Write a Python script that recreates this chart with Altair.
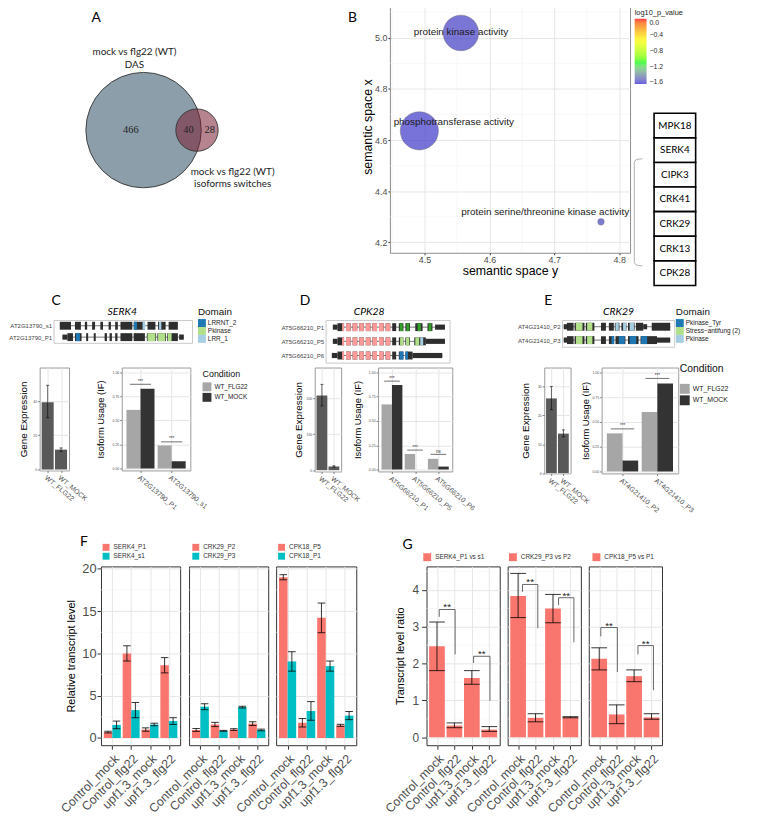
import json
import math
import pandas as pd
import altair as alt

FONT = "Liberation Sans"
CAL = "Lato"
SERIF = "Liberation Serif"
DUMMY = pd.DataFrame({"v": [0]})

# ---------------- A : Venn counts ----------------
das_only = 466
das_and_switch = 40
switch_only = 28
venn_set_labels = ["mock vs flg22 (WT)", "DAS", "mock vs flg22 (WT)", "isoforms switches"]
venn_label_x = [-2.0, -2.0, 19.6, 19.6]
venn_label_y = [17.2, 14.37, -9.14, -11.97]

# ---------------- B : REVIGO scatter ----------------
go_terms = ["phosphotransferase activity", "protein kinase activity",
            "protein serine/threonine kinase activity"]
semantic_y = [4.492, 4.556, 4.772]
semantic_x = [4.636, 5.019, 4.280]
go_log_size = [4.60, 4.25, 2.00]
go_log10_p = [-1.58, -1.57, -1.55]
label_semantic_y = [4.545, 4.556, 4.686]
label_semantic_x = [4.670, 5.022, 4.320]
gene_list = ["MPK18", "SERK4", "CIPK3", "CRK41", "CRK29", "CRK13", "CPK28"]

# ---------------- C / D / E ----------------
conditions = ["WT_FLG22", "WT_MOCK"]

serk4_tx = ["AT2G13790_s1", "AT2G13790_P1"]
serk4_exons = {
    "AT2G13790_s1": [(182, 216, "cds"), (228, 246, "cds"), (258, 265, "cds"), (280, 289, "cds"),
                     (305, 313, "cds"), (330, 337, "cds"), (350, 358, "cds"), (366, 402, "cds"),
                     (406, 440, "cds"), (448, 472, "cds"), (480, 503, "cds"), (512, 540, "cds")],
    "AT2G13790_P1": [(190, 205, "utr"), (205, 222, "cds"), (228, 248, "cds"), (262, 268, "cds"),
                     (285, 291, "cds"), (318, 325, "cds"), (333, 340, "cds"), (350, 357, "cds"),
                     (366, 402, "cds"), (406, 440, "cds"), (446, 474, "cds"), (478, 504, "cds"),
                     (508, 540, "cds"), (544, 558, "utr")],
}
serk4_domains = [("AT2G13790_s1", 407, 416, "LRRNT_2"), ("AT2G13790_s1", 433, 441, "LRR_1"),
                 ("AT2G13790_s1", 483, 490, "LRR_1"), ("AT2G13790_P1", 231, 243, "LRRNT_2"),
                 ("AT2G13790_P1", 448, 472, "Pkinase"), ("AT2G13790_P1", 480, 502, "Pkinase"),
                 ("AT2G13790_P1", 510, 521, "Pkinase")]
serk4_domain_names = ["LRRNT_2", "Pkinase", "LRR_1"]

cpk28_tx = ["AT5G66210_P1", "AT5G66210_P5", "AT5G66210_P6"]
_pink = [(298, 312), (318, 332), (338, 352), (358, 372), (378, 392), (398, 412), (418, 432)]
cpk28_exons = {
    "AT5G66210_P1": [(258, 272, "utr"), (272, 292, "cds")] + [(a, b, "cds") for a, b in _pink] +
                    [(438, 450, "cds"), (458, 472, "cds"), (478, 492, "cds"), (508, 530, "cds"),
                     (545, 560, "cds"), (568, 598, "utr")],
    "AT5G66210_P5": [(258, 272, "utr"), (272, 292, "cds")] + [(a, b, "cds") for a, b in _pink] +
                    [(438, 450, "cds"), (458, 472, "cds"), (478, 492, "cds"), (505, 540, "cds"),
                     (540, 598, "utr")],
    "AT5G66210_P6": [(255, 272, "utr"), (272, 292, "cds")] + [(a, b, "cds") for a, b in _pink] +
                    [(438, 450, "cds"), (458, 472, "cds"), (478, 500, "cds"), (500, 590, "utr")],
}
cpk28_domains = []
for _t in cpk28_tx:
    cpk28_domains += [(_t, 286, 292, "Pkinase")] + [(_t, a, b, "Pkinase") for a, b in _pink]
cpk28_domains += [("AT5G66210_P1", 461, 470, "EF-hand_7"), ("AT5G66210_P1", 481, 490, "EF-hand_7"),
                  ("AT5G66210_P1", 515, 525, "EF-hand_7"), ("AT5G66210_P1", 548, 557, "EF-hand_7"),
                  ("AT5G66210_P5", 462, 472, "EF-hand_5"), ("AT5G66210_P5", 480, 490, "EF-hand_5"),
                  ("AT5G66210_P5", 508, 520, "EF-hand_5"), ("AT5G66210_P5", 523, 532, "EF-hand_8"),
                  ("AT5G66210_P6", 460, 472, "EF-hand_6"), ("AT5G66210_P6", 478, 486, "EF-hand_6")]
cpk28_domain_names = ["Pkinase", "EF-hand_7", "EF-hand_5", "EF-hand_8", "EF-hand_6"]

crk29_tx = ["AT4G21410_P2", "AT4G21410_P3"]
crk29_exons = {
    "AT4G21410_P2": [(205, 215, "utr"), (215, 235, "cds"), (238, 268, "cds"), (272, 298, "cds"),
                     (318, 333, "cds"), (342, 357, "cds"), (360, 374, "cds"), (380, 395, "cds"),
                     (400, 420, "cds"), (424, 446, "cds"), (446, 458, "utr"), (472, 528, "cds")],
    "AT4G21410_P3": [(205, 215, "utr"), (215, 235, "cds"), (238, 268, "cds"), (272, 298, "cds"),
                     (318, 333, "cds"), (342, 358, "cds"), (362, 392, "cds"), (400, 432, "cds"),
                     (438, 488, "cds"), (488, 528, "utr")],
}
crk29_domains = [("AT4G21410_P2", 242, 262, "Stress\u2212antifung (2)"),
                 ("AT4G21410_P2", 276, 292, "Stress\u2212antifung (2)"),
                 ("AT4G21410_P2", 362, 372, "Pkinase"), ("AT4G21410_P2", 385, 394, "Pkinase"),
                 ("AT4G21410_P2", 405, 418, "Pkinase"),
                 ("AT4G21410_P3", 242, 262, "Stress\u2212antifung (2)"),
                 ("AT4G21410_P3", 276, 292, "Stress\u2212antifung (2)"),
                 ("AT4G21410_P3", 350, 358, "Pkinase_Tyr"), ("AT4G21410_P3", 372, 390, "Pkinase_Tyr"),
                 ("AT4G21410_P3", 405, 425, "Pkinase_Tyr"), ("AT4G21410_P3", 440, 458, "Pkinase_Tyr")]
crk29_domain_names = ["Pkinase_Tyr", "Stress\u2212antifung (2)", "Pkinase"]

c_isoforms = ["AT2G13790_P1", "AT2G13790_s1"]
c_expr, c_expr_lo, c_expr_hi = [39.4, 11.6], [30.3, 10.6], [49.3, 12.6]
c_if_flg22, c_if_mock = [0.61, 0.24], [0.83, 0.075]
c_sig, c_sig_y = ["***", "***"], [0.876, 0.277]

d_isoforms = ["AT5G66210_P1", "AT5G66210_P5", "AT5G66210_P6"]
d_expr, d_expr_lo, d_expr_hi = [208, 10], [179, 8], [239, 12]
d_if_flg22, d_if_mock = [0.67, 0.16, 0.11], [0.87, 0.0, 0.03]
d_sig, d_sig_y = ["***", "***", "ns"], [0.91, 0.20, 0.156]

e_isoforms = ["AT4G21410_P2", "AT4G21410_P3"]
e_expr, e_expr_lo, e_expr_hi = [25.9, 13.7], [22.0, 12.6], [30.0, 15.0]
e_if_flg22, e_if_mock = [0.385, 0.60], [0.11, 0.89]
e_sig, e_sig_y = ["***", "***"], [0.43, 0.94]

# ---------------- F / G ----------------
qpcr_groups = ["Control_mock", "Control_flg22", "upf1.3_mock", "upf1.3_flg22"]
f_pairs = [("SERK4_P1", "SERK4_s1"), ("CRK29_P2", "CRK29_P3"), ("CPK18_P5", "CPK18_P1")]
f_mean = {
    "SERK4_P1": [0.7, 10.0, 1.0, 8.6], "SERK4_s1": [1.55, 3.3, 1.6, 2.0],
    "CRK29_P2": [0.95, 1.6, 1.0, 1.7], "CRK29_P3": [3.7, 0.85, 3.65, 0.95],
    "CPK18_P5": [19.0, 1.8, 14.2, 1.5], "CPK18_P1": [9.05, 3.2, 8.5, 2.65],
}
f_err = {
    "SERK4_P1": [0.1, 0.9, 0.2, 0.9], "SERK4_s1": [0.45, 0.9, 0.15, 0.4],
    "CRK29_P2": [0.17, 0.25, 0.1, 0.22], "CRK29_P3": [0.35, 0.05, 0.1, 0.1],
    "CPK18_P5": [0.3, 0.5, 1.75, 0.12], "CPK18_P1": [1.15, 1.1, 0.6, 0.48],
}
g_panels = ["SERK4_P1 vs s1", "CRK29_P3 vs P2", "CPK18_P5 vs P1"]
g_mean = [[2.47, 0.32, 1.61, 0.21], [3.84, 0.53, 3.50, 0.545], [2.13, 0.62, 1.66, 0.54]]
g_lo = [[1.81, 0.26, 1.44, 0.16], [3.25, 0.42, 3.11, 0.53], [1.83, 0.37, 1.51, 0.49]]
g_hi = [[3.13, 0.39, 1.81, 0.29], [4.45, 0.64, 3.88, 0.56], [2.43, 0.88, 1.83, 0.64]]
# significance brackets: x left, x right, y left end, y top, y right end
g_sig = [
    [(1.13, 2.04, 3.27, 3.47, 2.25), (3.10, 4.04, 2.02, 2.20, 0.99)],
    [(1.25, 2.13, 3.95, 4.15, 2.96), (3.32, 4.20, 3.59, 3.79, 2.58)],
    [(1.09, 2.04, 2.74, 2.98, 1.77), (3.22, 4.11, 2.25, 2.49, 1.28)],
]

RED, TEAL = "#F8766D", "#00BFC4"
GRID, MINOR = "#e6e6e6", "#f3f3f3"


# ---------------- helpers ----------------
def blank(width, x2=0, y1=0, y2=0):
    return alt.Chart(DUMMY).mark_rect(opacity=0).encode(
        x=alt.value(0), x2=alt.value(x2), y=alt.value(y1), y2=alt.value(y2)
    ).properties(width=width, height=1, view=alt.ViewBackground(stroke=None))


def label_chart(text, x, y, size=14, style="normal", align="left", font=CAL):
    """A free-standing annotation (panel letter / gene name) placed inside its row."""
    return alt.Chart(DUMMY).mark_text(
        text=text, align=align, baseline="alphabetic", fontSize=size, fontStyle=style,
        font=font, color="black"
    ).encode(x=alt.value(x), y=alt.value(y)).properties(
        width=1, height=1, view=alt.ViewBackground(stroke=None))


def make_row(items, top, bottom):
    charts = [blank(1, x2=763, y1=top, y2=bottom)]
    cur = 1.0
    for x, w, ch in items:
        gap = x - cur
        if gap > 0.01:
            charts.append(blank(gap))
            cur += gap
        charts.append(ch)
        cur += w
    return alt.hconcat(*charts, spacing=0, bounds="flush").resolve_scale(
        color="independent", size="independent")


def names_expr(names, base=1):
    return json.dumps(list(names)) + "[datum.value - %d]" % base


# ---------------- A ----------------
def venn_chart(left, width, height):
    n1 = das_only + das_and_switch
    n2 = switch_only + das_and_switch
    r1 = math.sqrt(n1 / math.pi)
    r2 = math.sqrt(n2 / math.pi)

    def lens(d):
        if d >= r1 + r2:
            return 0.0
        if d <= abs(r1 - r2):
            return math.pi * min(r1, r2) ** 2
        a1 = r1 ** 2 * math.acos((d * d + r1 * r1 - r2 * r2) / (2 * d * r1))
        a2 = r2 ** 2 * math.acos((d * d + r2 * r2 - r1 * r1) / (2 * d * r2))
        a3 = 0.5 * math.sqrt((-d + r1 + r2) * (d + r1 - r2) * (d - r1 + r2) * (d + r1 + r2))
        return a1 + a2 - a3

    lo, hi = abs(r1 - r2), r1 + r2
    for _ in range(80):
        mid = (lo + hi) / 2
        if lens(mid) > das_and_switch:
            lo = mid
        else:
            hi = mid
    d = (lo + hi) / 2
    ppu = 4.594
    cx_px, cy_px = 145 - left, 131
    vx = alt.Scale(domain=[-cx_px / ppu, (width - cx_px) / ppu], nice=False, zero=False)
    vy = alt.Scale(domain=[-(height - cy_px) / ppu, cy_px / ppu], nice=False, zero=False)
    vs = alt.Scale(domain=[0, n1], range=[0, (2 * r1 * ppu) ** 2])
    X = alt.X("cx:Q", scale=vx, axis=None)
    Y = alt.Y("cy:Q", scale=vy, axis=None)
    big = alt.Chart(pd.DataFrame({"cx": [0.0], "cy": [0.0], "n": [n1]})).mark_circle(
        opacity=1, fill="#8C9EAA", stroke="#333333", strokeWidth=0.9
    ).encode(x=X, y=Y, size=alt.Size("n:Q", scale=vs, legend=None))
    small = alt.Chart(pd.DataFrame({"cx": [d], "cy": [0.0], "n": [n2]})).mark_circle(
        fillOpacity=0.55, fill="#7A1F33", stroke="#333333", strokeWidth=0.9, strokeOpacity=1
    ).encode(x=X, y=Y, size=alt.Size("n:Q", scale=vs, legend=None))
    counts = pd.DataFrame({
        "cx": [(-r1 + d - r2) / 2, (d - r2 + r1) / 2, (r1 + d + r2) / 2],
        "cy": [0.0, 0.0, 0.0],
        "t": [str(das_only), str(das_and_switch), str(switch_only)],
    })
    ctext = alt.Chart(counts).mark_text(font=SERIF, fontSize=10.5, color="#222").encode(
        x=X, y=Y, text="t:N")
    sets = pd.DataFrame({"cx": venn_label_x, "cy": venn_label_y, "t": venn_set_labels})
    stext = alt.Chart(sets).mark_text(font=CAL, fontSize=10, color="#222").encode(x=X, y=Y, text="t:N")
    return alt.layer(big, small, ctext, stext).properties(
        width=width, height=height, view=alt.ViewBackground(stroke=None))


# ---------------- B ----------------
def revigo_chart(width, height):
    df = pd.DataFrame({"term": go_terms, "sy": semantic_y, "sx": semantic_x,
                       "log_size": go_log_size, "p": go_log10_p})
    lab = pd.DataFrame({"term": go_terms, "sy": label_semantic_y, "sx": label_semantic_x})
    xs = alt.Scale(domain=[4.4466, 4.8168], nice=False, zero=False)
    ys = alt.Scale(domain=[4.159, 5.146], nice=False, zero=False)
    xax = alt.Axis(values=[4.5, 4.6, 4.7, 4.8], format=".1f", title="semantic space y",
                   labelFontSize=9, labelColor="#4d4d4d", tickColor="#333", tickSize=2,
                   labelPadding=1, titleFontSize=12.5, titleFontWeight="normal", titleColor="black",
                   titlePadding=0, domain=False, grid=True, gridColor=GRID)
    yax = alt.Axis(values=[4.2, 4.4, 4.6, 4.8, 5.0], format=".1f", title="semantic space x",
                   labelFontSize=9, labelColor="#4d4d4d", tickColor="#333", tickSize=2,
                   labelPadding=1, titleFontSize=12.5, titleFontWeight="normal", titleColor="black",
                   titlePadding=0, domain=False, grid=True, gridColor=GRID)
    minor_x = alt.Chart(pd.DataFrame({"m": [4.45, 4.55, 4.65, 4.75]})).mark_rule(
        color=MINOR, strokeWidth=0.6).encode(x=alt.X("m:Q", scale=xs, axis=xax))
    minor_y = alt.Chart(pd.DataFrame({"m": [4.3, 4.5, 4.7, 4.9, 5.1]})).mark_rule(
        color=MINOR, strokeWidth=0.6).encode(y=alt.Y("m:Q", scale=ys, axis=yax))
    color = alt.Color(
        "p:Q",
        scale=alt.Scale(domain=[-1.64, -1.0933, -0.5467, 0.0],
                        range=["#2b2bd9", "#00ff00", "#ffff00", "#ff0000"], interpolate="lab"),
        legend=alt.Legend(title="log10_p_value", orient="none", legendX=247.4, legendY=9,
                          direction="vertical", gradientLength=66, gradientThickness=12,
                          values=[0.0, -0.4, -0.8, -1.2, -1.6], format=".1f", labelFontSize=7,
                          titleFontSize=7.5, titleFontWeight="normal", titlePadding=2,
                          labelOffset=3, labelColor="#333", titleColor="#222"))
    pts = alt.Chart(df).mark_circle(opacity=0.75, stroke="#333", strokeWidth=0.4).encode(
        x=alt.X("sy:Q", scale=xs, axis=xax), y=alt.Y("sx:Q", scale=ys, axis=yax),
        size=alt.Size("log_size:Q", scale=alt.Scale(domain=[2.0, 4.6], range=[44, 1490]), legend=None),
        color=color)
    txt = alt.Chart(lab).mark_text(font=FONT, fontSize=10, color="#1a1a1a").encode(
        x=alt.X("sy:Q", scale=xs, axis=xax), y=alt.Y("sx:Q", scale=ys, axis=yax), text="term:N")
    return alt.layer(minor_x, minor_y, pts, txt).properties(
        width=width, height=height, view=alt.ViewBackground(stroke="#8c8c8c", strokeWidth=1))


def gene_list_chart(width, height):
    n = len(gene_list)
    df = pd.DataFrame({"gene": gene_list, "i0": list(range(n))})
    df["i1"] = df.i0 + 1
    df["mid"] = df.i0 + 0.5
    df["x0"], df["x1"], df["xm"] = 0.0, 1.0, 0.5
    xs = alt.Scale(domain=[0, 1], range=[24, 66], nice=False, zero=False)
    ys = alt.Scale(domain=[0, n], range=[114, 288], nice=False, zero=False)
    cells = alt.Chart(df).mark_rect(fill="white", stroke="black", strokeWidth=1.6).encode(
        x=alt.X("x0:Q", scale=xs, axis=None), x2="x1:Q", y=alt.Y("i0:Q", scale=ys, axis=None), y2="i1:Q")
    names = alt.Chart(df).mark_text(font=CAL, fontSize=10, color="black").encode(
        x=alt.X("xm:Q", scale=xs, axis=None), y=alt.Y("mid:Q", scale=ys, axis=None), text="gene:N")
    br = pd.DataFrame({"bx": [-0.279, -0.43, -0.476, -0.476, -0.43, -0.279],
                       "by": [1.85, 1.88, 1.98, 6.07, 6.17, 6.21], "k": list(range(6))})
    bracket = alt.Chart(br).mark_line(color="#b0b0b0", strokeWidth=1).encode(
        x=alt.X("bx:Q", scale=xs, axis=None), y=alt.Y("by:Q", scale=ys, axis=None),
        order=alt.Order("k:Q"))
    return alt.layer(bracket, cells, names).properties(
        width=width, height=height, view=alt.ViewBackground(stroke=None))


# ---------------- C/D/E ----------------
PAIRED = {"dblue": "#1F78B4", "lblue": "#A6CEE3", "lgreen": "#B2DF8A", "dgreen": "#33A02C", "pink": "#FB9A99"}
ANG = 40


def struct_chart(tx_order, exons, domains, xdom, width, height, dom_names, dom_colors, legend):
    n = len(tx_order)
    row_px = height / n
    pos = {t: i for i, t in enumerate(tx_order)}
    ex = pd.DataFrame([(t, s, e, k) for t, lst in exons.items() for (s, e, k) in lst],
                      columns=["tx", "s", "e", "kind"])
    ex["r"] = ex.tx.map(pos)
    ex["half"] = ex.kind.map({"cds": 4.0, "utr": 2.6}) / row_px
    ex["y0"], ex["y1"] = ex.r - ex.half, ex.r + ex.half
    intr = ex.groupby("tx").agg(s=("s", "min"), e=("e", "max")).reset_index()
    intr["r"] = intr.tx.map(pos)
    dm = pd.DataFrame(domains, columns=["tx", "s", "e", "domain"])
    dm["r"] = dm.tx.map(pos)
    dm["y0"], dm["y1"] = dm.r - 4.0 / row_px, dm.r + 4.0 / row_px
    xs = alt.Scale(domain=xdom, nice=False, zero=False)
    ys = alt.Scale(domain=[n - 0.5, -0.5], nice=False, zero=False)
    yax = alt.Axis(values=list(range(n)), labelExpr=names_expr(tx_order, 0), title=None, domain=False,
                   ticks=False, grid=False, labelFontSize=6.1, labelColor="#444", labelPadding=2,
                   labelOverlap=False)
    bx = alt.X("s:Q", scale=xs, axis=None)
    intron = alt.Chart(intr).mark_rule(color="#3a3a3a", strokeWidth=0.7).encode(
        x=bx, x2="e:Q", y=alt.Y("r:Q", scale=ys, axis=yax))
    exo = alt.Chart(ex).mark_rect(color="#2e2e2e").encode(
        x=bx, x2="e:Q", y=alt.Y("y0:Q", scale=ys, axis=yax), y2="y1:Q")
    dmn = alt.Chart(dm).mark_rect().encode(
        x=bx, x2="e:Q", y=alt.Y("y0:Q", scale=ys, axis=yax), y2="y1:Q",
        color=alt.Color("domain:N", scale=alt.Scale(domain=dom_names, range=dom_colors), legend=legend))
    return alt.layer(intron, exo, dmn).properties(
        width=width, height=height, view=alt.ViewBackground(stroke="#c8c8c8", strokeWidth=1))


def domain_legend(lx):
    return alt.Legend(title="Domain", orient="none", legendX=lx, legendY=-13, symbolType="square",
                      symbolSize=64, symbolStrokeWidth=0, labelFontSize=6.5, titleFontSize=10,
                      titleFontWeight="normal", titlePadding=2, rowPadding=0, labelOffset=2,
                      labelColor="#222", titleColor="#111")


def gexpr_chart(vals, lo, hi, ydom, yticks, width, height, tpad):
    df = pd.DataFrame({"cond": conditions, "i": [1, 2], "v": vals, "lo": lo, "hi": hi})
    df["z"] = 0.0
    df["x0"], df["x1"] = df.i - 0.45, df.i + 0.45
    df["cl"], df["cr"] = df.i - 0.12, df.i + 0.12
    xs = alt.Scale(domain=[0.4, 2.6], nice=False, zero=False)
    ys = alt.Scale(domain=ydom, nice=False, zero=False)
    xax = alt.Axis(values=[1, 2], labelExpr=names_expr(conditions), labelAngle=ANG, labelAlign="left",
                   labelBaseline="top", labelFontSize=7, labelColor="#4d4d4d", tickSize=2,
                   tickColor="#777", labelPadding=1, domain=False, grid=True, gridColor=GRID, title=None,
                   labelOverlap=False)
    yax = alt.Axis(values=yticks, labelFontSize=3.5, labelColor="#4d4d4d", tickSize=2, tickColor="#777",
                   labelPadding=1, domain=False, grid=True, gridColor=GRID, title="Gene Expression",
                   titleFontSize=10, titleFontWeight="normal", titleColor="black", titlePadding=tpad)
    X = lambda f: alt.X(f, scale=xs, axis=xax)
    Yq = lambda f: alt.Y(f, scale=ys, axis=yax)
    bars = alt.Chart(df).mark_rect(color="#595959").encode(x=X("x0:Q"), x2="x1:Q", y=Yq("v:Q"), y2="z:Q")
    eb = alt.Chart(df).mark_rule(color="black", strokeWidth=0.6).encode(x=X("i:Q"), y=Yq("lo:Q"), y2="hi:Q")
    c1 = alt.Chart(df).mark_rule(color="black", strokeWidth=0.6).encode(x=X("cl:Q"), x2="cr:Q", y=Yq("lo:Q"))
    c2 = alt.Chart(df).mark_rule(color="black", strokeWidth=0.6).encode(x=X("cl:Q"), x2="cr:Q", y=Yq("hi:Q"))
    return alt.layer(bars, eb, c1, c2).properties(
        width=width, height=height, view=alt.ViewBackground(stroke="#9a9a9a", strokeWidth=1))


def iso_chart(isoforms, flg, mock, sig_lab, sig_y, width, height, tpad, legend):
    n = len(isoforms)
    rows = []
    for i, iso in enumerate(isoforms):
        for k, (cond, val) in enumerate([(conditions[0], flg[i]), (conditions[1], mock[i])]):
            x0 = (i + 1) - 0.45 + 0.45 * k
            rows.append(dict(iso=iso, cond=cond, v=val, z=0.0, x0=x0, x1=x0 + 0.45))
    df = pd.DataFrame(rows)
    sig = pd.DataFrame({"idx": list(range(1, n + 1)), "y": sig_y, "lab": sig_lab})
    sig["sx0"], sig["sx1"] = sig.idx - 0.34, sig.idx + 0.34
    xs = alt.Scale(domain=[0.4, n + 0.6], nice=False, zero=False)
    ys = alt.Scale(domain=[-0.02, 1.05], nice=False, zero=False)
    xax = alt.Axis(values=list(range(1, n + 1)), labelExpr=names_expr(isoforms), labelAngle=ANG,
                   labelAlign="left", labelBaseline="top", labelFontSize=7, labelColor="#4d4d4d",
                   tickSize=2, tickColor="#777", labelPadding=1, domain=False, grid=True,
                   gridColor=GRID, title=None, labelOverlap=False)
    yax = alt.Axis(values=[0, 0.25, 0.5, 0.75, 1.0], format=".2f", labelFontSize=3.5,
                   labelColor="#4d4d4d", tickSize=2, tickColor="#777", labelPadding=1, domain=False,
                   grid=True, gridColor=GRID, title="Isoform Usage (IF)", titleFontSize=9.5,
                   titleFontWeight="normal", titleColor="black", titlePadding=tpad)
    X = lambda f: alt.X(f, scale=xs, axis=xax)
    Yq = lambda f: alt.Y(f, scale=ys, axis=yax)
    bars = alt.Chart(df).mark_rect().encode(
        x=X("x0:Q"), x2="x1:Q", y=Yq("v:Q"), y2="z:Q",
        color=alt.Color("cond:N", scale=alt.Scale(domain=conditions, range=["#A6A6A6", "#333333"]),
                        legend=legend))
    line = alt.Chart(sig).mark_rule(color="#333", strokeWidth=0.7).encode(x=X("sx0:Q"), x2="sx1:Q", y=Yq("y:Q"))
    txt = alt.Chart(sig).mark_text(fontSize=4.5, baseline="bottom", dy=-0.5, color="#333", font=FONT).encode(
        x=X("idx:Q"), y=Yq("y:Q"), text="lab:N")
    return alt.layer(bars, line, txt).properties(
        width=width, height=height, view=alt.ViewBackground(stroke="#9a9a9a", strokeWidth=1))


def cond_legend(lx, ly, tsize, lsize, ssize, tpad):
    return alt.Legend(title="Condition", orient="none", legendX=lx, legendY=ly, symbolType="square",
                      symbolSize=ssize, symbolStrokeWidth=0, titleFontSize=tsize, titleFontWeight="normal",
                      titleColor="#111", labelFontSize=lsize, labelColor="#222", titlePadding=tpad,
                      rowPadding=1.6, labelOffset=3)


# ---------------- F / G ----------------
def qpcr_axes(first, yticks, title, lsize, tick, lpad, tpad):
    xax = alt.Axis(values=[1, 2, 3, 4], labelExpr=names_expr(qpcr_groups), labelAngle=-45,
                   labelAlign="right", labelBaseline="top", labelFontSize=12.5, labelColor="#4d4d4d",
                   tickSize=4, tickColor="#333", labelPadding=3, domain=False, grid=True,
                   gridColor=GRID, title=None, labelOverlap=False)
    if first:
        yax = alt.Axis(values=yticks, labelFontSize=lsize, labelColor="#4d4d4d", tickSize=tick,
                       tickColor="#333", labelPadding=lpad, domain=False, grid=True, gridColor=GRID,
                       title=title, titleFontSize=11, titleFontWeight="normal", titleColor="black",
                       titlePadding=tpad)
    else:
        yax = alt.Axis(values=yticks, labels=False, ticks=False, domain=False, grid=True,
                       gridColor=GRID, title=None)
    return xax, yax


def f_chart(pair, width, height, first, lx):
    rows = []
    for k, s in enumerate(pair):
        for gi, g in enumerate(qpcr_groups):
            idx = gi + 1
            m, e = f_mean[s][gi], f_err[s][gi]
            x0 = idx - 0.45 + 0.45 * k
            xc = x0 + 0.225
            rows.append(dict(series=s, group=g, v=m, z=0.0, lo=m - e, hi=m + e, x0=x0, x1=x0 + 0.45,
                             xc=xc, cl=xc - 0.2, cr=xc + 0.2))
    df = pd.DataFrame(rows)
    xs = alt.Scale(domain=[0.4, 4.6], nice=False, zero=False)
    ys = alt.Scale(domain=[-0.85, 20.28], nice=False, zero=False)
    xax, yax = qpcr_axes(first, [0, 5, 10, 15, 20], "Relative transcript level", 13, 4, 1, 5)
    X = lambda f: alt.X(f, scale=xs, axis=xax)
    Yq = lambda f: alt.Y(f, scale=ys, axis=yax)
    minor = alt.Chart(pd.DataFrame({"m": [2.5, 7.5, 12.5, 17.5]})).mark_rule(
        color=MINOR, strokeWidth=0.6).encode(y=Yq("m:Q"))
    bars = alt.Chart(df).mark_rect().encode(
        x=X("x0:Q"), x2="x1:Q", y=Yq("v:Q"), y2="z:Q",
        color=alt.Color("series:N", scale=alt.Scale(domain=list(pair), range=[RED, TEAL]),
                        legend=alt.Legend(title=None, orient="none", legendX=lx, legendY=-22.8,
                                          symbolType="square", symbolSize=49, symbolStrokeWidth=0,
                                          labelFontSize=6.5, labelColor="#333", rowPadding=2,
                                          labelOffset=4)))
    eb = alt.Chart(df).mark_rule(color="black", strokeWidth=0.8).encode(x=X("xc:Q"), y=Yq("lo:Q"), y2="hi:Q")
    c1 = alt.Chart(df).mark_rule(color="black", strokeWidth=0.8).encode(x=X("cl:Q"), x2="cr:Q", y=Yq("lo:Q"))
    c2 = alt.Chart(df).mark_rule(color="black", strokeWidth=0.8).encode(x=X("cl:Q"), x2="cr:Q", y=Yq("hi:Q"))
    return alt.layer(minor, bars, eb, c1, c2).properties(
        width=width, height=height, view=alt.ViewBackground(stroke="#333333", strokeWidth=1))


def g_chart(k, width, height, first, lx):
    name = g_panels[k]
    df = pd.DataFrame({"group": qpcr_groups, "idx": [1, 2, 3, 4], "v": g_mean[k], "lo": g_lo[k],
                       "hi": g_hi[k]})
    df["z"] = 0.0
    df["x0"], df["x1"] = df.idx - 0.45, df.idx + 0.45
    df["series"] = name
    segs = []
    for (xl, xr, yl, yt, yr) in g_sig[k]:
        segs += [dict(xa=xl, xb=xl, ya=yl, yb=yt), dict(xa=xl, xb=xr, ya=yt, yb=yt),
                 dict(xa=xr, xb=xr, ya=yt, yb=yr)]
    segs = pd.DataFrame(segs)
    stars = pd.DataFrame([dict(x=(s[0] + s[1]) / 2, y=s[3], t="**") for s in g_sig[k]])
    xs = alt.Scale(domain=[0.4, 4.6], nice=False, zero=False)
    ys = alt.Scale(domain=[-0.215, 4.64], nice=False, zero=False)
    xax, yax = qpcr_axes(first, [0, 1, 2, 3, 4], "Transcript level ratio", 12, 5, 3, 7)
    X = lambda f: alt.X(f, scale=xs, axis=xax)
    Yq = lambda f: alt.Y(f, scale=ys, axis=yax)
    minor = alt.Chart(pd.DataFrame({"m": [0.5, 1.5, 2.5, 3.5, 4.5]})).mark_rule(
        color=MINOR, strokeWidth=0.6).encode(y=Yq("m:Q"))
    bars = alt.Chart(df).mark_rect().encode(
        x=X("x0:Q"), x2="x1:Q", y=Yq("v:Q"), y2="z:Q",
        color=alt.Color("series:N", scale=alt.Scale(domain=[name], range=[RED]),
                        legend=alt.Legend(title=None, orient="none", legendX=lx, legendY=-13.3,
                                          symbolType="square", symbolSize=64, symbolStrokeWidth=0,
                                          labelFontSize=6.5, labelColor="#333", labelOffset=4)))
    eb = alt.Chart(df).mark_rule(color="black", strokeWidth=0.8).encode(x=X("idx:Q"), y=Yq("lo:Q"), y2="hi:Q")
    c1 = alt.Chart(df).mark_rule(color="black", strokeWidth=0.8).encode(x=X("x0:Q"), x2="x1:Q", y=Yq("lo:Q"))
    c2 = alt.Chart(df).mark_rule(color="black", strokeWidth=0.8).encode(x=X("x0:Q"), x2="x1:Q", y=Yq("hi:Q"))
    br = alt.Chart(segs).mark_rule(color="#555", strokeWidth=0.9).encode(
        x=X("xa:Q"), x2="xb:Q", y=Yq("ya:Q"), y2="yb:Q")
    st = alt.Chart(stars).mark_text(font=FONT, fontSize=10, color="#222", baseline="alphabetic", dy=1).encode(
        x=X("x:Q"), y=Yq("y:Q"), text="t:N")
    return alt.layer(minor, bars, eb, c1, c2, br, st).properties(
        width=width, height=height, view=alt.ViewBackground(stroke="#333333", strokeWidth=1))


# ---------------- rows ----------------
row1 = make_row([
    (1, 1, label_chart("A", 92.3 - 1, 22)),
    (2, 1, label_chart("B", 351.7 - 2, 22)),
    (3, 390.3, venn_chart(3, 390.3, 255)),
    (393.3, 242.7, revigo_chart(242.7, 255)),
    (636, 66, gene_list_chart(66, 288)),
], 0, 295)

row2a = make_row([
    (1, 1, label_chart("C", 52 - 1, -15)),
    (2, 1, label_chart("D", 303 - 2, -15.5)),
    (3, 1, label_chart("E", 550 - 3, -15)),
    (4, 1, label_chart("SERK4", 123.5 - 4, -5.2, size=10.5, style="italic", align="center")),
    (5, 1, label_chart("CPK28", 373 - 5, -5.2, size=10.5, style="italic", align="center")),
    (6, 1, label_chart("CRK29", 625 - 6, -5.2, size=10.5, style="italic", align="center")),
    (54, 140, struct_chart(serk4_tx, serk4_exons, serk4_domains, [163, 583], 140, 23,
                           serk4_domain_names, [PAIRED["dblue"], PAIRED["lgreen"], PAIRED["lblue"]],
                           domain_legend(146))),
    (328.7, 125.3, struct_chart(cpk28_tx, cpk28_exons, cpk28_domains, [236, 612], 125.3, 43,
                                cpk28_domain_names,
                                [PAIRED["pink"], PAIRED["dgreen"], PAIRED["lgreen"], PAIRED["lblue"],
                                 PAIRED["dblue"]], None)),
    (566.7, 113.3, struct_chart(crk29_tx, crk29_exons, crk29_domains, [200, 540], 113.3, 27,
                                crk29_domain_names, [PAIRED["dblue"], PAIRED["lgreen"], PAIRED["lblue"]],
                                domain_legend(115))),
], -27.5, 43.5)

row2b = make_row([
    (39.3, 29.7, gexpr_chart(c_expr, c_expr_lo, c_expr_hi, [-0.6, 59.7], [0, 20, 40], 29.7, 104, 4)),
    (121.7, 69.3, iso_chart(c_isoforms, c_if_flg22, c_if_mock, c_sig, c_sig_y, 69.3, 104, 7,
                            cond_legend(81.6, 3, 9, 6.5, 81, 3))),
    (316, 26.7, gexpr_chart(d_expr, d_expr_lo, d_expr_hi, [-3.8, 286], [0, 100, 200], 26.7, 105, 3)),
    (379.3, 75, iso_chart(d_isoforms, d_if_flg22, d_if_mock, d_sig, d_sig_y, 75, 105, 6, None)),
    (546.7, 26.6, gexpr_chart(e_expr, e_expr_lo, e_expr_hi, [-0.1, 36.6], [0, 10, 20, 30], 26.6, 107, 7)),
    (604.3, 77.4, iso_chart(e_isoforms, e_if_flg22, e_if_mock, e_sig, e_sig_y, 77.4, 107, 1,
                            cond_legend(79, -3, 10.5, 7, 100, 9))),
], -3, 168.3)

row3 = make_row([
    (1, 1, label_chart("F", 80.7 - 1, -20.3)),
    (2, 1, label_chart("G", 406.7 - 2, -17.6)),
    (101.7, 80, f_chart(f_pairs[0], 80, 180.7, True, 1.6)),
    (190, 80, f_chart(f_pairs[1], 80, 180.7, False, 3.3)),
    (278, 81, f_chart(f_pairs[2], 81, 180.7, False, 2.0)),
    (430, 74, g_chart(0, 74, 180.7, True, -3.3)),
    (512, 74, g_chart(1, 74, 180.7, False, 1.3)),
    (594, 74, g_chart(2, 74, 180.7, False, 3.7)),
], -32, 262)

chart = alt.vconcat(row1, row2a, row2b, row3, spacing=0).resolve_scale(
    color="independent", size="independent"
).properties(
    padding={"left": -8, "top": -13, "right": 0, "bottom": 0}
).configure_view(stroke=None).configure_axis(labelFont=FONT, titleFont=FONT).configure_legend(
    labelFont=FONT, titleFont=FONT)

chart.save("out.html", embed_options={"renderer": "svg", "actions": False})
